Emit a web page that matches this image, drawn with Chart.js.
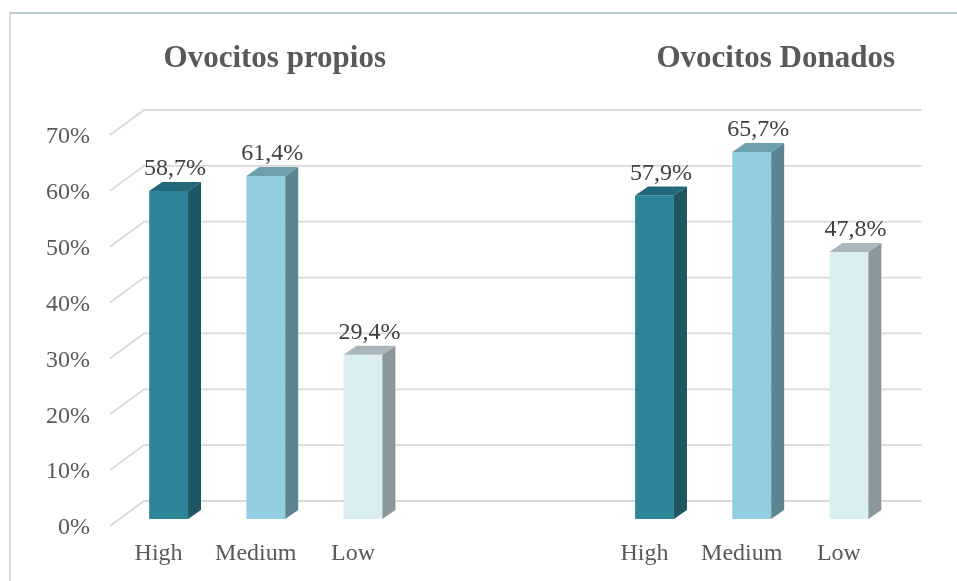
<!DOCTYPE html>
<html>
<head>
<meta charset="utf-8">
<script src="https://cdn.jsdelivr.net/npm/chart.js@4.4.1/dist/chart.umd.min.js"></script>
<style>
  body { margin: 0; background: #fff; }
  #marco { position: relative; width: 957px; height: 581px; }
  #borde { position: absolute; left: 9px; top: 12px; right: 0; bottom: 0;
           border-top: 2px solid #bccfd7; border-left: 2px solid #d9d9d9; pointer-events: none; }
</style>
</head>
<body>
<div id="marco">
  <canvas id="grafico" width="957" height="581"></canvas>
  <div id="borde"></div>
</div>
<script>
const grupos = ['Ovocitos propios', 'Ovocitos Donados'];
const categorias = ['High', 'Medium', 'Low'];
const propios = [58.7, 61.4, 29.4];
const donados = [57.9, 65.7, 47.8];
const ticksY = [0, 10, 20, 30, 40, 50, 60, 70];

// colores por categoria: frente, lateral, tapa
const colorFrente = ['#2f8598', '#93cde0', '#dbeef3'];
const colorLado = ['#1f5664', '#5b8590', '#8b979c'];
const colorTapa = ['#23687a', '#6e9fac', '#a9b6bb'];

// dos huecos vacios entre los grupos
const etiquetas = [...categorias, '', '', ...categorias];
const valores = [...propios, null, null, ...donados];
const fondo = [...colorFrente, null, null, ...colorFrente];

const prof = { dx: 13, dy: -9 };   // profundidad de la barra
const pared = { dx: 24, dy: -18 }; // pared del fondo
const piso = { dx: -10, dy: 7 };   // borde frontal del piso

const fuente = 'Liberation Serif';
Chart.defaults.font.family = fuente;

const efecto3d = {
  id: 'efecto3d',
  beforeDatasetsDraw(chart) {
    const ctx = chart.ctx;
    const a = chart.chartArea;
    const y = chart.scales.y;
    ctx.save();
    ctx.strokeStyle = '#d9d9d9';
    ctx.lineWidth = 1.8;
    for (const t of ticksY) {
      const py = y.getPixelForValue(t);
      ctx.beginPath();
      ctx.moveTo(a.left + piso.dx, py + piso.dy);
      ctx.lineTo(a.left + pared.dx, py + pared.dy);
      ctx.lineTo(a.right + pared.dx, py + pared.dy);
      ctx.stroke();
    }
    ctx.restore();
  },
  afterDatasetsDraw(chart) {
    const ctx = chart.ctx;
    const meta = chart.getDatasetMeta(0);
    ctx.save();
    meta.data.forEach(function(bar, i) {
      const v = valores[i];
      if (v == null) return;
      const c = i % 5;
      const w = bar.width;
      const izq = bar.x - w / 2, der = bar.x + w / 2;
      // lateral
      ctx.fillStyle = colorLado[c];
      ctx.beginPath();
      ctx.moveTo(der, bar.y);
      ctx.lineTo(der + prof.dx, bar.y + prof.dy);
      ctx.lineTo(der + prof.dx, bar.base + prof.dy);
      ctx.lineTo(der, bar.base);
      ctx.closePath();
      ctx.fill();
      // tapa
      ctx.fillStyle = colorTapa[c];
      ctx.beginPath();
      ctx.moveTo(izq, bar.y);
      ctx.lineTo(izq + prof.dx, bar.y + prof.dy);
      ctx.lineTo(der + prof.dx, bar.y + prof.dy);
      ctx.lineTo(der, bar.y);
      ctx.closePath();
      ctx.fill();
      // valor
      ctx.fillStyle = '#404040';
      ctx.font = '24px ' + fuente;
      ctx.textAlign = 'center';
      ctx.textBaseline = 'alphabetic';
      ctx.fillText(v.toFixed(1).replace('.', ',') + '%', bar.x + prof.dx / 2, bar.y - 16);
    });
    // titulos de cada grupo
    const ajuste = [9, 24];
    ctx.fillStyle = '#595959';
    ctx.font = 'bold 31px ' + fuente;
    ctx.textAlign = 'center';
    grupos.forEach(function(g, k) {
      const centro = meta.data[k * 5 + 1].x;
      ctx.fillText(g, centro + ajuste[k], 67);
    });
    ctx.restore();
  }
};

new Chart(document.getElementById('grafico'), {
  type: 'bar',
  data: {
    labels: etiquetas,
    datasets: [{
      data: valores,
      backgroundColor: fondo,
      borderWidth: 0,
      barPercentage: 0.4,
      categoryPercentage: 1
    }]
  },
  options: {
    responsive: false,
    animation: false,
    layout: { padding: { top: 128, right: 59.5, left: 0, bottom: 0 } },
    plugins: { legend: { display: false }, tooltip: { enabled: false } },
    scales: {
      x: {
        grid: { display: false, drawTicks: false },
        border: { display: false },
        ticks: { color: '#595959', font: { family: fuente, size: 24 }, padding: 20, labelOffset: -10, maxRotation: 0 },
        afterFit(s) { s.height = 62; }
      },
      y: {
        min: 0,
        max: 70,
        grid: { display: false, drawTicks: false },
        border: { display: false },
        ticks: {
          stepSize: 10,
          color: '#595959',
          font: { family: fuente, size: 24 },
          padding: 30,
          labelOffset: 9,
          callback: v => v + '%'
        },
        afterFit(s) { s.width = 120; }
      }
    }
  },
  plugins: [efecto3d]
});
</script>
</body>
</html>
